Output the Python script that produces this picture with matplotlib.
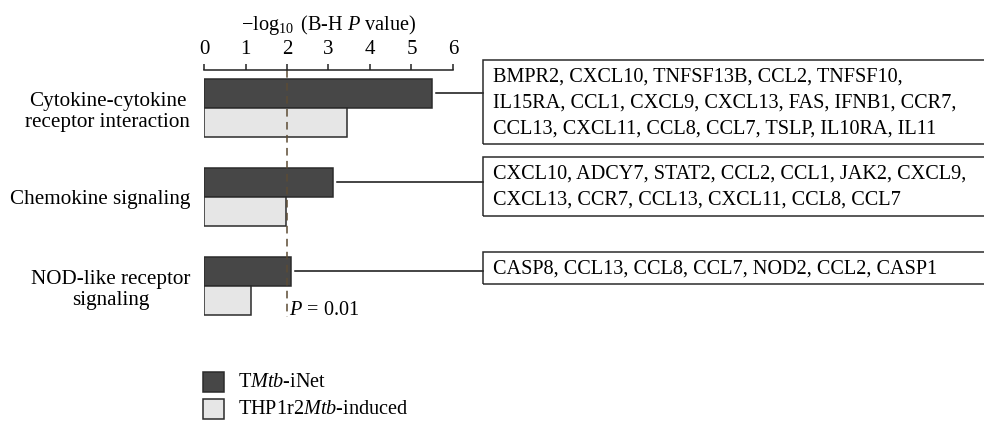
"""Enriched KEGG pathways for the two gene sets, with the member genes."""

import matplotlib.pyplot as plt
from matplotlib.patches import Rectangle

plt.rcParams['font.family'] = ['Liberation Serif', 'DejaVu Serif']
plt.rcParams['mathtext.fontset'] = 'custom'
plt.rcParams['mathtext.rm'] = 'Liberation Serif'
plt.rcParams['mathtext.it'] = 'Liberation Serif:italic'

# -log10 of the Benjamini-Hochberg P values
pathways = ["Cytokine-cytokine\nreceptor interaction",
            "Chemokine signaling",
            "NOD-like receptor\nsignaling"]
tmtb_inet = [5.5, 3.11, 2.09]
thp1_induced = [3.45, 1.97, 1.14]
genes = ["BMPR2, CXCL10, TNFSF13B, CCL2, TNFSF10,\n"
         "IL15RA, CCL1, CXCL9, CXCL13, FAS, IFNB1, CCR7,\n"
         "CCL13, CXCL11, CCL8, CCL7, TSLP, IL10RA, IL11",
         "CXCL10, ADCY7, STAT2, CCL2, CCL1, JAK2, CXCL9,\n"
         "CXCL13, CCR7, CCL13, CXCL11, CCL8, CCL7",
         "CASP8, CCL13, CCL8, CCL7, NOD2, CCL2, CASP1"]
p_cut = 2.0  # -log10(0.01)
xticks = [0, 1, 2, 3, 4, 5, 6]

W, H = 984, 423
DARK = '#474747'
LIGHT = '#e6e6e6'
EDGE = '#2b2b2b'
FS = 14.6


def fx(px):
    return px / W


def fy(py):
    return 1 - py / H


fig = plt.figure(figsize=(W / 100, H / 100), dpi=100)
ax = fig.add_axes([fx(204), fy(320), fx(249), 250 / H])

bh = 0.326
ypos = range(len(pathways))
ax.barh([y - bh / 2 for y in ypos], tmtb_inet, height=bh, color=DARK,
        edgecolor=EDGE, linewidth=1.1)
ax.barh([y + bh / 2 for y in ypos], thp1_induced, height=bh, color=LIGHT,
        edgecolor=EDGE, linewidth=1.1)

ax.set_xlim(0, 6)
ax.set_ylim(2.382, -0.427)

# axis on top, no other frame
for side in ['left', 'right', 'bottom']:
    ax.spines[side].set_visible(False)
ax.spines['top'].set_linewidth(1.1)
ax.spines['top'].set_color('#222222')
ax.xaxis.tick_top()
ax.xaxis.set_label_position('top')
ax.set_xticks(xticks)
ax.tick_params(axis='x', direction='out', length=4, width=1.1,
               color='#222222', labelsize=FS + 0.4, pad=4)
ax.set_xlabel(r'$-\log_{10}$ (B-H $P$ value)', fontsize=FS, labelpad=7)
ax.set_yticks(list(ypos))
ax.set_yticklabels(pathways, fontsize=FS + 0.6, multialignment='center')
ax.tick_params(axis='y', length=0, pad=10)

# significance threshold
ax.plot([p_cut, p_cut], [-0.427, 2.35], color='#5c4c34', lw=1.1,
        dashes=(5, 3.5), clip_on=False)
ax.text(p_cut + 0.05, 2.27, r'$P$ = 0.01', fontsize=FS, va='center',
        ha='left')

# gene boxes, joined to the dark bars
box_left = 483
box_tops = [60, 157, 252]
box_heights = [84, 59, 32]
to_data = ax.transData.inverted()
bx = to_data.transform(fig.transFigure.transform((fx(box_left), 0)))[0]
for i, (txt, top, hgt) in enumerate(zip(genes, box_tops, box_heights)):
    fig.add_artist(Rectangle((fx(box_left), fy(top + hgt)), fx(520), hgt / H,
                             transform=fig.transFigure, fill=False,
                             edgecolor=EDGE, linewidth=1.1))
    fig.text(fx(box_left + 10), fy(top + hgt / 2 + 1), txt, fontsize=FS,
             va='center', ha='left', linespacing=1.5)
    ax.plot([tmtb_inet[i] + 0.1, bx], [i - bh / 2, i - bh / 2],
            color='#111111', lw=1.1, clip_on=False)

# legend
for k, (lab, col) in enumerate([(r'T$Mtb$-iNet', DARK),
                                (r'THP1r2$Mtb$-induced', LIGHT)]):
    top = 372 + 27 * k
    fig.add_artist(Rectangle((fx(203), fy(top + 20)), fx(21), 20 / H,
                             transform=fig.transFigure, facecolor=col,
                             edgecolor=EDGE, linewidth=1.1))
    fig.text(fx(238), fy(top + 10), lab, fontsize=FS, va='center',
             ha='left')

fig.savefig('out.png', dpi=100)
